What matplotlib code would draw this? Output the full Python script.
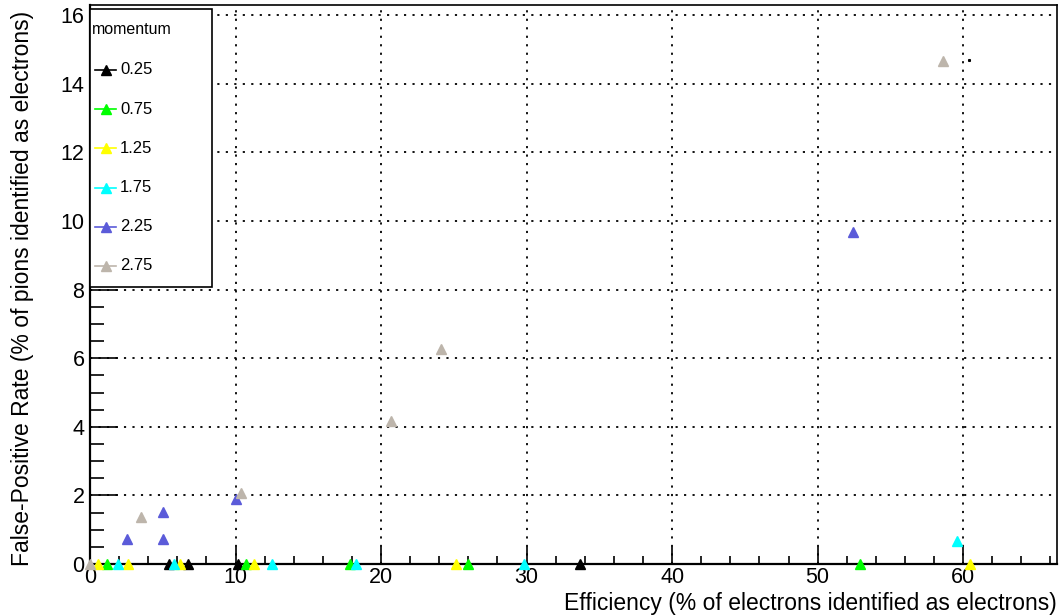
import matplotlib
matplotlib.use("Agg")
import matplotlib.pyplot as plt
from matplotlib.lines import Line2D
from matplotlib.patches import Rectangle
from matplotlib.ticker import MultipleLocator

plt.rcParams['font.family'] = ['Liberation Sans', 'DejaVu Sans']

# momentum bins and their colours
momenta = ["0.25", "0.75", "1.25", "1.75", "2.25", "2.75"]
colors = ["#000000", "#00ff00", "#ffff00", "#00ffff", "#5b5bd9", "#bdb5ab"]

# efficiency (x) / false-positive rate (y), one pair of lists per momentum
eff_025 = [5.45, 6.7, 10.2, 33.7]
fpr_025 = [0, 0, 0, 0]
eff_075 = [1.2, 10.7, 17.9, 26.0, 52.9]
fpr_075 = [0, 0, 0, 0, 0]
eff_125 = [0.57, 2.6, 6.2, 11.3, 25.15, 60.5]
fpr_125 = [0, 0, 0, 0, 0, 0]
eff_175 = [1.95, 5.8, 12.5, 18.3, 29.8, 59.57]
fpr_175 = [0, 0, 0, 0, 0, 0.68]
eff_225 = [2.52, 5.0, 5.0, 10.03, 52.46]
fpr_225 = [0.74, 0.74, 1.52, 1.9, 9.69]
eff_275 = [0.0, 3.48, 10.35, 20.7, 24.1, 58.6]
fpr_275 = [0.0, 1.38, 2.08, 4.17, 6.27, 14.67]

# stray dot seen next to the last point
extra_x = [60.4]
extra_y = [14.7]

effs = [eff_025, eff_075, eff_125, eff_175, eff_225, eff_275]
fprs = [fpr_025, fpr_075, fpr_125, fpr_175, fpr_225, fpr_275]

W, H = 1059, 615
fig = plt.figure(figsize=(W / 100, H / 100), dpi=100)
# frame: x 90..1057 px, y 5..564 px (from top)
ax = fig.add_axes([90 / W, 51 / H, 967 / W, 559 / H])

for x, y, c in zip(effs, fprs, colors):
    ax.plot(x, y, linestyle='none', marker='^', markersize=7, color=c,
            markeredgecolor=c, clip_on=False, zorder=5)
ax.plot(extra_x, extra_y, linestyle='none', marker='s', markersize=1.2,
        color='black', zorder=5)

ax.set_xlim(0, 66.45)
ax.set_ylim(0, 16.3)

ax.xaxis.set_major_locator(MultipleLocator(10))
ax.xaxis.set_minor_locator(MultipleLocator(2))
ax.yaxis.set_major_locator(MultipleLocator(2))
ax.yaxis.set_minor_locator(MultipleLocator(0.5))

ax.tick_params(axis='x', which='major', direction='in', length=12, width=1.2,
               labelsize=15.5, pad=2)
ax.tick_params(axis='x', which='minor', direction='in', length=6, width=1.2)
ax.tick_params(axis='y', which='major', direction='in', length=20, width=1.2,
               labelsize=15.5, pad=4)
ax.tick_params(axis='y', which='minor', direction='in', length=10, width=1.2)

for s in ax.spines.values():
    s.set_linewidth(1.2)
ax.spines['left'].set_linewidth(1.6)
ax.spines['bottom'].set_linewidth(1.6)

ax.grid(True, which='major', color='black', linestyle=(0, (1.2, 3.5)),
        linewidth=1.3)
ax.set_axisbelow(True)

ax.set_xlabel("Efficiency (% of electrons identified as electrons)",
              loc='right', fontsize=16.5, labelpad=3)
ax.set_ylabel("False-Positive Rate (% of pions identified as electrons)",
              loc='top', fontsize=16.5, labelpad=19)
ax.yaxis.label.set_y(0.99)

# ROOT-style legend box drawn by hand (pixel layout -> axes fraction)
def ax_x(px):
    return (px - 90) / 967

def ax_y(py):
    return (564 - py) / 559

box = Rectangle((ax_x(90), ax_y(287)), ax_x(212) - ax_x(90),
                ax_y(9) - ax_y(287), transform=ax.transAxes,
                facecolor='white', edgecolor='black', linewidth=1.2,
                zorder=10, clip_on=False)
ax.add_patch(box)
ax.text(ax_x(92), ax_y(29), "momentum", transform=ax.transAxes,
        fontsize=11.5, va='center', ha='left', zorder=11)
row0, step = 70, 39.2
for i, (lab, c) in enumerate(zip(momenta, colors)):
    yy = ax_y(row0 + i * step)
    ax.add_line(Line2D([ax_x(95), ax_x(116)], [yy, yy], color=c,
                       linewidth=1.2, transform=ax.transAxes, zorder=11))
    ax.add_line(Line2D([ax_x(105.5)], [yy], color=c, marker='^',
                       markersize=7, linestyle='none',
                       transform=ax.transAxes, zorder=12))
    ax.text(ax_x(120), yy, lab, transform=ax.transAxes, fontsize=12,
            va='center', ha='left', zorder=11)

fig.savefig("out.png", dpi=100)
